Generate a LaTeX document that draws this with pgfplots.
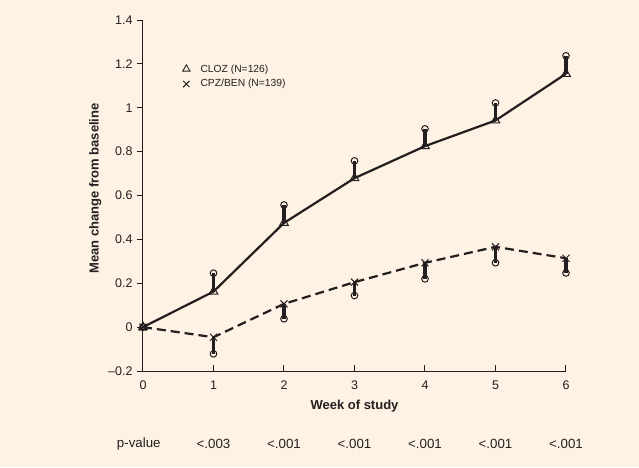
\documentclass[border=0pt]{standalone}
\usepackage{fontspec}
\setmainfont{Liberation Sans}
\usepackage{pgfplots}
\pgfplotsset{compat=1.18}
\usetikzlibrary{backgrounds}
\definecolor{bg}{RGB}{253,242,227}
\definecolor{ink}{RGB}{35,31,32}
\pgfplotsset{markleg/.style={legend image code/.code={\path (0pt,0pt) (16pt,0pt); \draw[##1] plot coordinates {(4pt,0pt)};}}}
\begin{document}
\begin{tikzpicture}[x=1pt,y=1pt]
\begin{axis}[
  at={(0,0)}, anchor=south west,
  scale only axis, width=423pt, height=351pt,
  xmin=0, xmax=6, ymin=-0.2, ymax=1.4,
  axis lines=left, axis line style={ink, line width=1pt, -},
  clip=false,
  tick align=outside, major tick length=6pt,
  tick style={ink, line width=1pt},
  xtick={0,1,2,3,4,5,6},
  xtick style={yshift=6pt},
  ytick={-0.2,0,0.2,0.4,0.6,0.8,1,1.2,1.4},
  yticklabels={--0.2,0,0.2,0.4,0.6,0.8,1,1.2,1.4},
  xticklabels={0,1,2,3,4,5,6},
  ticklabel style={font=\fontsize{12.5}{15}\selectfont, text=ink},
  yticklabel style={xshift=-1pt},
  xlabel={\bfseries Week of study},
  ylabel={\bfseries Mean change from baseline},
  label style={font=\fontsize{13}{15}\selectfont, text=ink},
  xlabel style={yshift=-4pt},
  ylabel style={yshift=0pt, xshift=7pt},
  legend style={at={(0.085,0.885)}, anchor=north west, draw=none, fill=none,
    font=\fontsize{10.3}{12}\selectfont, text=ink, row sep=2pt},
  legend cell align=left,
]
\addlegendimage{markleg, only marks, mark=triangle, mark size=4.2pt, mark options={ink, line width=0.9pt}}
\addlegendentry{CLOZ (N=126)}
\addlegendimage{markleg, only marks, mark=x, mark size=4.5pt, mark options={ink, line width=0.9pt}}
\addlegendentry{CPZ/BEN (N=139)}

\addplot[ink, line width=2.2pt, mark=triangle, mark size=5pt,
  mark options={solid, fill=bg, line width=1pt},
  error bars/.cd, y dir=plus, y explicit,
  error bar style={line width=3.4pt, ink, solid},
  error mark=o, error mark options={ink, fill=bg, mark size=3.3pt, line width=1pt}]
  table[x=x, y=y, y error=e] {
x y e
0 0 0
1 0.162 0.084
2 0.475 0.082
3 0.679 0.079
4 0.825 0.079
5 0.942 0.080
6 1.155 0.082
};
\addplot[ink, line width=2.2pt, dash pattern=on 9pt off 5pt, mark=x, mark size=5pt,
  mark options={solid, line width=1pt},
  error bars/.cd, y dir=minus, y explicit,
  error bar style={line width=3.4pt, ink, solid},
  error mark=o, error mark options={ink, fill=bg, mark size=3.3pt, line width=1pt}]
  table[x=x, y=y, y error=e] {
x y e
0 0 0
1 -0.046 0.076
2 0.106 0.068
3 0.205 0.061
4 0.293 0.073
5 0.366 0.073
6 0.314 0.067
};
\node[font=\fontsize{13.3}{15}\selectfont, text=ink] at ([yshift=-73pt]axis cs:-0.06,-0.2) {p-value};
\node[font=\fontsize{13.3}{15}\selectfont, text=ink] at ([yshift=-73pt]axis cs:1,-0.2) {<.003};
\node[font=\fontsize{13.3}{15}\selectfont, text=ink] at ([yshift=-73pt]axis cs:2,-0.2) {<.001};
\node[font=\fontsize{13.3}{15}\selectfont, text=ink] at ([yshift=-73pt]axis cs:3,-0.2) {<.001};
\node[font=\fontsize{13.3}{15}\selectfont, text=ink] at ([yshift=-73pt]axis cs:4,-0.2) {<.001};
\node[font=\fontsize{13.3}{15}\selectfont, text=ink] at ([yshift=-73pt]axis cs:5,-0.2) {<.001};
\node[font=\fontsize{13.3}{15}\selectfont, text=ink] at ([yshift=-73pt]axis cs:6,-0.2) {<.001};
\end{axis}
\pgfresetboundingbox
\begin{scope}[on background layer]
\fill[bg] (-143,-96) rectangle (496,371);
\end{scope}
\path[use as bounding box] (-143,-96) rectangle (496,371);
\end{tikzpicture}
\end{document}
